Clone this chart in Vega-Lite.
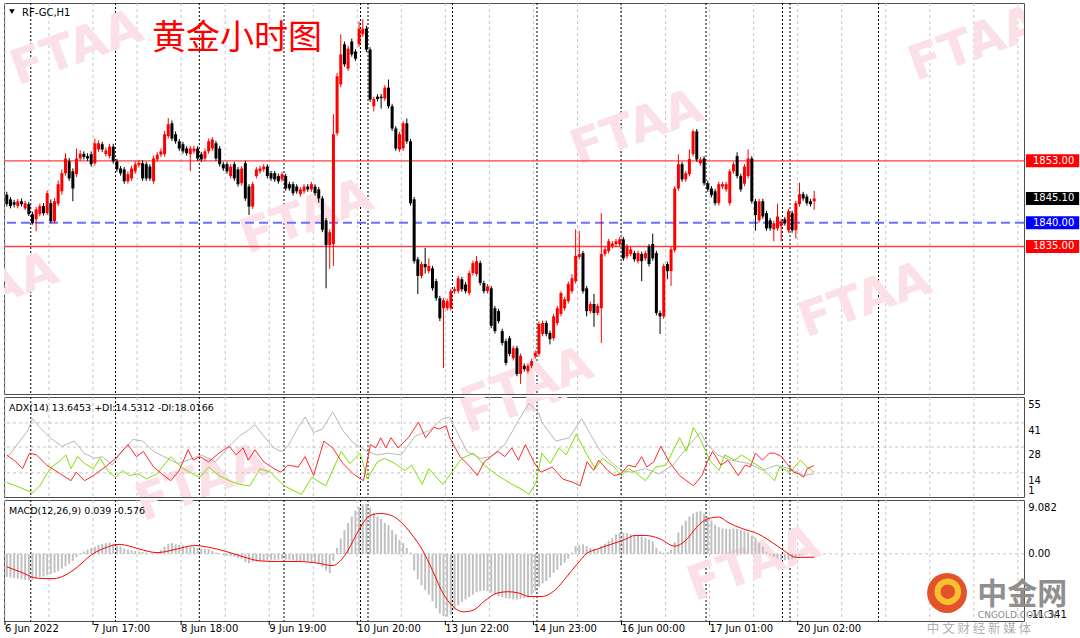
{
"$schema":"https://vega.github.io/schema/vega-lite/v6.json",
"padding":{"left":2,"top":2,"right":0,"bottom":0},
"background":"white",
"spacing":1,
"resolve":{"scale":{"color":"independent"}},
"config":{
 "view":{"stroke":"#4d4d4d","strokeWidth":1},
 "axis":{"labelFont":"DejaVu Sans","labelFontSize":10,"labelColor":"#000000","tickColor":"#000000"}
},
"datasets":{
 "vgrid":[{"i":-0.5},{"i":11.5},{"i":23.5},{"i":35.5},{"i":47.5},{"i":59.5},{"i":71.5},{"i":83.5},{"i":95.5},{"i":107.5},{"i":119.5},{"i":131.5},{"i":143.5},{"i":155.5},{"i":167.5},{"i":179.5},{"i":191.5},{"i":203.5},{"i":215.5},{"i":227.5},{"i":239.5},{"i":251.5},{"i":263.5},{"i":275.5}],
 "seps":[{"i":6.54},{"i":29.62},{"i":52.46},{"i":75.53},{"i":96.38},{"i":98.42},{"i":121.45},{"i":144.47},{"i":167.37},{"i":190.53},{"i":211.37},{"i":213.41},{"i":237.53}],
 "xl":[{"i":-0.5,"t":"6 Jun 2022"},{"i":23.5,"t":"7 Jun 17:00"},{"i":47.5,"t":"8 Jun 18:00"},{"i":71.5,"t":"9 Jun 19:00"},{"i":95.5,"t":"10 Jun 20:00"},{"i":119.5,"t":"13 Jun 22:00"},{"i":143.5,"t":"14 Jun 23:00"},{"i":167.5,"t":"16 Jun 00:00"},{"i":191.5,"t":"17 Jun 01:00"},{"i":215.5,"t":"20 Jun 02:00"}],
 "candles":[
{"i":0,"o":1845.9,"h":1846.5,"l":1843.4,"c":1843.9},{"i":1,"o":1844.9,"h":1845.4,"l":1843.0,"c":1843.5},{"i":2,"o":1844.3,"h":1844.8,"l":1843.2,"c":1843.8},{"i":3,"o":1843.5,"h":1845.0,"l":1843.0,"c":1844.5},{"i":4,"o":1844.5,"h":1845.1,"l":1843.4,"c":1843.9},{"i":5,"o":1843.0,"h":1844.6,"l":1842.6,"c":1844.1},{"i":6,"o":1843.9,"h":1844.4,"l":1841.4,"c":1841.8},{"i":7,"o":1841.8,"h":1842.3,"l":1839.6,"c":1839.9},{"i":8,"o":1840.7,"h":1843.3,"l":1838.2,"c":1842.8},{"i":9,"o":1841.8,"h":1844.0,"l":1841.3,"c":1843.5},
{"i":10,"o":1843.5,"h":1844.1,"l":1841.5,"c":1842.0},{"i":11,"o":1842.0,"h":1846.8,"l":1841.6,"c":1846.2},{"i":12,"o":1844.1,"h":1844.9,"l":1839.9,"c":1840.3},{"i":13,"o":1840.3,"h":1845.2,"l":1839.9,"c":1844.5},{"i":14,"o":1844.0,"h":1848.9,"l":1843.5,"c":1848.1},{"i":15,"o":1846.6,"h":1851.2,"l":1845.9,"c":1850.4},{"i":16,"o":1850.4,"h":1854.6,"l":1849.9,"c":1853.5},{"i":17,"o":1852.9,"h":1853.6,"l":1848.8,"c":1849.3},{"i":18,"o":1850.8,"h":1851.4,"l":1844.5,"c":1847.2},{"i":19,"o":1850.2,"h":1855.6,"l":1849.6,"c":1853.5},
{"i":20,"o":1853.5,"h":1855.2,"l":1853.0,"c":1854.5},{"i":21,"o":1854.5,"h":1855.0,"l":1853.3,"c":1853.8},{"i":22,"o":1854.0,"h":1854.6,"l":1853.0,"c":1853.5},{"i":23,"o":1854.4,"h":1855.0,"l":1851.8,"c":1852.3},{"i":24,"o":1852.5,"h":1857.7,"l":1852.0,"c":1856.7},{"i":25,"o":1855.4,"h":1857.3,"l":1854.9,"c":1856.7},{"i":26,"o":1856.5,"h":1857.0,"l":1854.9,"c":1855.4},{"i":27,"o":1854.4,"h":1855.8,"l":1853.9,"c":1855.2},{"i":28,"o":1854.0,"h":1856.6,"l":1853.5,"c":1856.0},{"i":29,"o":1856.0,"h":1856.6,"l":1852.4,"c":1852.9},
{"i":30,"o":1852.9,"h":1853.4,"l":1850.7,"c":1851.2},{"i":31,"o":1851.4,"h":1851.9,"l":1849.9,"c":1850.4},{"i":32,"o":1851.2,"h":1851.7,"l":1848.2,"c":1848.7},{"i":33,"o":1848.7,"h":1850.8,"l":1848.2,"c":1850.2},{"i":34,"o":1849.3,"h":1852.0,"l":1848.8,"c":1851.4},{"i":35,"o":1850.8,"h":1852.9,"l":1850.3,"c":1852.3},{"i":36,"o":1852.1,"h":1853.2,"l":1851.6,"c":1852.6},{"i":37,"o":1852.5,"h":1853.1,"l":1848.8,"c":1849.3},{"i":38,"o":1852.3,"h":1852.8,"l":1848.8,"c":1849.3},{"i":39,"o":1851.8,"h":1852.3,"l":1848.8,"c":1849.3},
{"i":40,"o":1848.7,"h":1854.1,"l":1848.2,"c":1853.5},{"i":41,"o":1853.3,"h":1854.8,"l":1852.8,"c":1854.3},{"i":42,"o":1854.3,"h":1855.6,"l":1853.8,"c":1855.0},{"i":43,"o":1854.4,"h":1859.3,"l":1853.9,"c":1858.6},{"i":44,"o":1858.2,"h":1862.0,"l":1857.7,"c":1860.7},{"i":45,"o":1860.9,"h":1861.5,"l":1857.2,"c":1857.7},{"i":46,"o":1858.6,"h":1859.2,"l":1856.6,"c":1857.1},{"i":47,"o":1857.1,"h":1857.6,"l":1855.1,"c":1855.6},{"i":48,"o":1856.5,"h":1857.0,"l":1854.5,"c":1855.0},{"i":49,"o":1855.6,"h":1856.1,"l":1854.1,"c":1854.6},
{"i":50,"o":1854.4,"h":1856.1,"l":1850.8,"c":1855.6},{"i":51,"o":1855.0,"h":1856.2,"l":1854.5,"c":1855.6},{"i":52,"o":1855.6,"h":1856.1,"l":1853.0,"c":1853.5},{"i":53,"o":1854.4,"h":1854.9,"l":1852.8,"c":1853.3},{"i":54,"o":1853.5,"h":1855.6,"l":1853.0,"c":1855.0},{"i":55,"o":1855.0,"h":1857.7,"l":1854.5,"c":1857.1},{"i":56,"o":1855.6,"h":1858.0,"l":1855.1,"c":1857.5},{"i":57,"o":1856.7,"h":1857.2,"l":1853.0,"c":1853.5},{"i":58,"o":1855.6,"h":1856.1,"l":1851.8,"c":1852.3},{"i":59,"o":1852.3,"h":1852.8,"l":1850.9,"c":1851.4},
{"i":60,"o":1852.3,"h":1852.8,"l":1850.3,"c":1850.8},{"i":61,"o":1849.8,"h":1852.3,"l":1849.3,"c":1851.8},{"i":62,"o":1852.3,"h":1852.8,"l":1848.8,"c":1849.3},{"i":63,"o":1851.2,"h":1851.7,"l":1847.6,"c":1848.1},{"i":64,"o":1848.3,"h":1851.9,"l":1847.8,"c":1851.4},{"i":65,"o":1852.5,"h":1853.0,"l":1844.6,"c":1845.1},{"i":66,"o":1847.6,"h":1848.1,"l":1841.6,"c":1843.4},{"i":67,"o":1843.4,"h":1848.6,"l":1842.9,"c":1848.1},{"i":68,"o":1849.8,"h":1851.7,"l":1849.3,"c":1851.2},{"i":69,"o":1850.8,"h":1852.0,"l":1850.3,"c":1851.4},
{"i":70,"o":1851.2,"h":1852.3,"l":1850.7,"c":1851.8},{"i":71,"o":1851.8,"h":1852.3,"l":1849.3,"c":1849.8},{"i":72,"o":1850.4,"h":1850.9,"l":1848.8,"c":1849.3},{"i":73,"o":1850.4,"h":1850.9,"l":1848.6,"c":1849.1},{"i":74,"o":1849.8,"h":1850.3,"l":1848.2,"c":1848.7},{"i":75,"o":1849.1,"h":1850.7,"l":1848.6,"c":1850.2},{"i":76,"o":1849.8,"h":1850.3,"l":1846.7,"c":1847.2},{"i":77,"o":1848.1,"h":1848.6,"l":1846.7,"c":1847.2},{"i":78,"o":1848.1,"h":1848.6,"l":1845.7,"c":1846.2},{"i":79,"o":1847.6,"h":1848.1,"l":1846.1,"c":1846.6},
{"i":80,"o":1846.0,"h":1847.5,"l":1845.5,"c":1847.0},{"i":81,"o":1846.6,"h":1848.1,"l":1846.1,"c":1847.6},{"i":82,"o":1847.6,"h":1848.1,"l":1846.5,"c":1847.0},{"i":83,"o":1847.0,"h":1848.6,"l":1846.5,"c":1848.1},{"i":84,"o":1847.6,"h":1848.1,"l":1845.7,"c":1846.2},{"i":85,"o":1847.0,"h":1847.5,"l":1844.2,"c":1845.1},{"i":86,"o":1845.1,"h":1845.6,"l":1838.0,"c":1838.5},{"i":87,"o":1840.5,"h":1841.0,"l":1826.2,"c":1835.3},{"i":88,"o":1835.3,"h":1838.6,"l":1830.3,"c":1838.0},{"i":89,"o":1835.5,"h":1862.8,"l":1830.9,"c":1858.6},
{"i":90,"o":1858.8,"h":1871.5,"l":1858.3,"c":1870.8},{"i":91,"o":1869.1,"h":1879.6,"l":1868.5,"c":1875.4},{"i":92,"o":1877.5,"h":1878.1,"l":1872.8,"c":1873.3},{"i":93,"o":1872.4,"h":1877.2,"l":1871.9,"c":1876.6},{"i":94,"o":1878.1,"h":1878.7,"l":1874.9,"c":1875.4},{"i":95,"o":1876.0,"h":1876.5,"l":1874.0,"c":1874.5},{"i":96,"o":1877.5,"h":1882.3,"l":1877.0,"c":1880.8},{"i":97,"o":1879.6,"h":1882.8,"l":1879.1,"c":1880.8},{"i":98,"o":1880.8,"h":1881.4,"l":1875.9,"c":1876.4},{"i":99,"o":1876.4,"h":1876.9,"l":1865.4,"c":1865.9},
{"i":100,"o":1864.5,"h":1866.5,"l":1863.4,"c":1866.0},{"i":101,"o":1866.5,"h":1867.0,"l":1865.5,"c":1866.0},{"i":102,"o":1866.5,"h":1867.1,"l":1864.0,"c":1866.2},{"i":103,"o":1866.1,"h":1868.9,"l":1865.6,"c":1868.4},{"i":104,"o":1868.4,"h":1870.1,"l":1864.0,"c":1864.5},{"i":105,"o":1864.5,"h":1865.0,"l":1859.3,"c":1859.8},{"i":106,"o":1859.8,"h":1860.3,"l":1855.1,"c":1855.6},{"i":107,"o":1855.4,"h":1859.1,"l":1854.9,"c":1858.6},{"i":108,"o":1855.6,"h":1861.4,"l":1855.1,"c":1860.9},{"i":109,"o":1860.9,"h":1861.9,"l":1856.6,"c":1857.1},
{"i":110,"o":1857.1,"h":1857.6,"l":1843.6,"c":1844.1},{"i":111,"o":1844.9,"h":1845.4,"l":1831.4,"c":1831.9},{"i":112,"o":1832.3,"h":1832.8,"l":1825.0,"c":1828.8},{"i":113,"o":1828.8,"h":1831.8,"l":1828.3,"c":1831.3},{"i":114,"o":1831.3,"h":1834.7,"l":1829.3,"c":1830.6},{"i":115,"o":1829.8,"h":1832.5,"l":1829.3,"c":1830.9},{"i":116,"o":1830.4,"h":1830.9,"l":1825.7,"c":1826.2},{"i":117,"o":1827.7,"h":1828.2,"l":1823.6,"c":1824.1},{"i":118,"o":1824.1,"h":1824.6,"l":1819.3,"c":1819.9},{"i":119,"o":1822.0,"h":1824.2,"l":1809.4,"c":1823.7},
{"i":120,"o":1822.0,"h":1824.0,"l":1821.5,"c":1823.5},{"i":121,"o":1822.0,"h":1826.1,"l":1821.5,"c":1825.6},{"i":122,"o":1825.6,"h":1826.5,"l":1825.1,"c":1826.0},{"i":123,"o":1825.6,"h":1828.8,"l":1825.1,"c":1828.3},{"i":124,"o":1828.1,"h":1828.6,"l":1825.5,"c":1826.0},{"i":125,"o":1827.0,"h":1827.5,"l":1825.1,"c":1825.6},{"i":126,"o":1825.2,"h":1829.9,"l":1824.7,"c":1829.4},{"i":127,"o":1829.4,"h":1832.0,"l":1828.9,"c":1831.5},{"i":128,"o":1829.2,"h":1833.0,"l":1828.7,"c":1831.9},{"i":129,"o":1831.5,"h":1832.0,"l":1826.8,"c":1827.3},
{"i":130,"o":1827.3,"h":1827.8,"l":1825.1,"c":1825.6},{"i":131,"o":1825.6,"h":1827.1,"l":1825.1,"c":1826.6},{"i":132,"o":1826.2,"h":1826.7,"l":1817.8,"c":1818.3},{"i":133,"o":1822.0,"h":1822.5,"l":1816.7,"c":1817.2},{"i":134,"o":1821.4,"h":1821.9,"l":1818.8,"c":1819.3},{"i":135,"o":1817.2,"h":1817.7,"l":1814.2,"c":1814.7},{"i":136,"o":1815.1,"h":1815.6,"l":1810.0,"c":1810.5},{"i":137,"o":1815.7,"h":1816.2,"l":1811.9,"c":1812.4},{"i":138,"o":1811.5,"h":1814.1,"l":1811.0,"c":1813.6},{"i":139,"o":1813.6,"h":1814.1,"l":1807.7,"c":1808.2},
{"i":140,"o":1808.2,"h":1812.5,"l":1806.1,"c":1812.0},{"i":141,"o":1809.9,"h":1810.4,"l":1808.7,"c":1809.2},{"i":142,"o":1808.8,"h":1810.4,"l":1808.3,"c":1809.9},{"i":143,"o":1809.9,"h":1811.4,"l":1809.4,"c":1810.9},{"i":144,"o":1811.9,"h":1813.1,"l":1811.4,"c":1812.6},{"i":145,"o":1812.4,"h":1819.2,"l":1811.9,"c":1818.7},{"i":146,"o":1816.6,"h":1819.4,"l":1816.1,"c":1818.9},{"i":147,"o":1818.9,"h":1819.4,"l":1816.1,"c":1816.6},{"i":148,"o":1816.8,"h":1817.3,"l":1814.4,"c":1815.5},{"i":149,"o":1815.7,"h":1820.8,"l":1815.2,"c":1820.3},
{"i":150,"o":1818.9,"h":1822.5,"l":1818.4,"c":1822.0},{"i":151,"o":1820.8,"h":1825.6,"l":1820.3,"c":1825.2},{"i":152,"o":1822.0,"h":1824.4,"l":1821.5,"c":1823.9},{"i":153,"o":1823.5,"h":1827.6,"l":1823.0,"c":1827.1},{"i":154,"o":1825.6,"h":1829.2,"l":1825.1,"c":1828.3},{"i":155,"o":1827.7,"h":1838.6,"l":1827.2,"c":1833.0},{"i":156,"o":1832.8,"h":1838.2,"l":1832.3,"c":1833.4},{"i":157,"o":1833.6,"h":1834.1,"l":1825.1,"c":1825.6},{"i":158,"o":1826.2,"h":1826.7,"l":1820.3,"c":1821.4},{"i":159,"o":1821.4,"h":1823.4,"l":1820.9,"c":1822.9},
{"i":160,"o":1822.9,"h":1825.0,"l":1818.1,"c":1821.0},{"i":161,"o":1821.0,"h":1823.0,"l":1820.5,"c":1822.5},{"i":162,"o":1822.0,"h":1842.0,"l":1814.7,"c":1833.4},{"i":163,"o":1833.4,"h":1834.9,"l":1832.9,"c":1834.4},{"i":164,"o":1834.0,"h":1836.6,"l":1833.5,"c":1836.1},{"i":165,"o":1835.1,"h":1836.1,"l":1834.6,"c":1835.6},{"i":166,"o":1835.5,"h":1836.6,"l":1835.0,"c":1836.1},{"i":167,"o":1835.5,"h":1837.0,"l":1835.0,"c":1836.5},{"i":168,"o":1836.5,"h":1837.0,"l":1832.0,"c":1832.5},{"i":169,"o":1832.9,"h":1835.5,"l":1832.4,"c":1835.0},
{"i":170,"o":1833.4,"h":1834.9,"l":1832.9,"c":1834.4},{"i":171,"o":1833.6,"h":1834.1,"l":1831.8,"c":1832.3},{"i":172,"o":1831.9,"h":1834.1,"l":1831.4,"c":1833.6},{"i":173,"o":1833.4,"h":1833.9,"l":1827.7,"c":1831.9},{"i":174,"o":1832.5,"h":1834.1,"l":1832.0,"c":1833.6},{"i":175,"o":1835.0,"h":1835.5,"l":1830.8,"c":1831.3},{"i":176,"o":1835.5,"h":1837.7,"l":1832.0,"c":1832.5},{"i":177,"o":1833.6,"h":1834.1,"l":1820.5,"c":1821.0},{"i":178,"o":1821.0,"h":1821.5,"l":1816.6,"c":1820.3},{"i":179,"o":1820.3,"h":1831.4,"l":1819.8,"c":1830.9},
{"i":180,"o":1831.3,"h":1831.8,"l":1828.1,"c":1829.8},{"i":181,"o":1829.8,"h":1834.9,"l":1826.7,"c":1834.4},{"i":182,"o":1834.2,"h":1847.7,"l":1833.7,"c":1847.2},{"i":183,"o":1847.2,"h":1854.4,"l":1846.7,"c":1852.3},{"i":184,"o":1852.3,"h":1852.8,"l":1848.6,"c":1849.1},{"i":185,"o":1849.1,"h":1850.9,"l":1848.6,"c":1850.4},{"i":186,"o":1850.2,"h":1855.4,"l":1849.7,"c":1853.4},{"i":187,"o":1854.4,"h":1859.6,"l":1853.9,"c":1859.2},{"i":188,"o":1859.2,"h":1859.7,"l":1852.8,"c":1853.3},{"i":189,"o":1852.5,"h":1853.8,"l":1852.0,"c":1853.3},
{"i":190,"o":1853.5,"h":1854.0,"l":1847.8,"c":1848.3},{"i":191,"o":1848.3,"h":1848.8,"l":1846.5,"c":1847.0},{"i":192,"o":1847.2,"h":1847.7,"l":1845.3,"c":1845.8},{"i":193,"o":1846.6,"h":1847.1,"l":1843.6,"c":1844.1},{"i":194,"o":1844.1,"h":1848.6,"l":1843.6,"c":1848.1},{"i":195,"o":1847.6,"h":1848.6,"l":1847.1,"c":1848.1},{"i":196,"o":1847.0,"h":1848.6,"l":1846.5,"c":1848.1},{"i":197,"o":1844.1,"h":1851.3,"l":1843.6,"c":1850.8},{"i":198,"o":1850.8,"h":1852.8,"l":1850.3,"c":1852.3},{"i":199,"o":1854.0,"h":1854.8,"l":1849.3,"c":1849.8},
{"i":200,"o":1849.8,"h":1850.3,"l":1846.5,"c":1847.0},{"i":201,"o":1848.2,"h":1852.3,"l":1847.7,"c":1851.8},{"i":202,"o":1849.8,"h":1855.4,"l":1849.3,"c":1853.5},{"i":203,"o":1853.5,"h":1854.0,"l":1844.0,"c":1844.5},{"i":204,"o":1844.5,"h":1845.0,"l":1838.3,"c":1841.6},{"i":205,"o":1840.5,"h":1845.0,"l":1840.0,"c":1844.5},{"i":206,"o":1844.5,"h":1845.0,"l":1840.8,"c":1841.3},{"i":207,"o":1842.0,"h":1842.5,"l":1838.3,"c":1838.8},{"i":208,"o":1840.5,"h":1841.0,"l":1838.3,"c":1838.8},{"i":209,"o":1838.6,"h":1840.4,"l":1836.1,"c":1839.9},
{"i":210,"o":1838.8,"h":1844.0,"l":1838.3,"c":1841.3},{"i":211,"o":1839.3,"h":1840.8,"l":1836.1,"c":1840.3},{"i":212,"o":1840.7,"h":1841.2,"l":1839.4,"c":1839.9},{"i":213,"o":1838.4,"h":1842.9,"l":1837.9,"c":1842.4},{"i":214,"o":1842.0,"h":1842.5,"l":1837.9,"c":1838.4},{"i":215,"o":1838.4,"h":1844.6,"l":1836.7,"c":1844.1},{"i":216,"o":1843.9,"h":1848.4,"l":1843.4,"c":1846.0},{"i":217,"o":1846.0,"h":1846.5,"l":1844.6,"c":1845.1},{"i":218,"o":1845.5,"h":1846.0,"l":1843.6,"c":1844.1},{"i":219,"o":1844.5,"h":1845.0,"l":1843.4,"c":1843.9},
{"i":220,"o":1844.5,"h":1846.7,"l":1842.7,"c":1845.1}
 ],
 "adx":[
{"i":0,"v":21.9,"s":"a"},{"i":2.5,"v":28.4,"s":"a"},{"i":5.7,"v":36.8,"s":"a"},{"i":7,"v":43.3,"s":"a"},{"i":9,"v":38.6,"s":"a"},{"i":11.8,"v":33,"s":"a"},{"i":15,"v":28.4,"s":"a"},{"i":18.4,"v":31.2,"s":"a"},{"i":21,"v":24.7,"s":"a"},{"i":24,"v":21.9,"s":"a"},{"i":26,"v":22.8,"s":"a"},{"i":28.7,"v":18.2,"s":"a"},{"i":31,"v":24.7,"s":"a"},{"i":34.4,"v":32.1,"s":"a"},{"i":37,"v":31.2,"s":"a"},{"i":40,"v":25.6,"s":"a"},{"i":43.7,"v":21.9,"s":"a"},{"i":46.5,"v":19.1,"s":"a"},{"i":49.4,"v":20.9,"s":"a"},{"i":53,"v":23.7,"s":"a"},{"i":56.9,"v":20,"s":"a"},{"i":60.6,"v":28.4,"s":"a"},{"i":63.4,"v":33.9,"s":"a"},{"i":66.2,"v":37.7,"s":"a"},{"i":67.6,"v":40.1,"s":"a"},{"i":70,"v":33.9,"s":"a"},{"i":72.8,"v":27.5,"s":"a"},{"i":74.7,"v":25.6,"s":"a"},{"i":76.6,"v":28.4,"s":"a"},{"i":79.4,"v":38.6,"s":"a"},{"i":81.3,"v":44.2,"s":"a"},{"i":83.6,"v":35.8,"s":"a"},{"i":86,"v":37.7,"s":"a"},{"i":88.8,"v":47,"s":"a"},{"i":91.6,"v":36.8,"s":"a"},{"i":94.4,"v":30.2,"s":"a"},{"i":98.2,"v":25.6,"s":"a"},{"i":101,"v":23.7,"s":"a"},{"i":103.8,"v":24.7,"s":"a"},{"i":107.5,"v":23.7,"s":"a"},{"i":111.3,"v":33.9,"s":"a"},{"i":115,"v":36.8,"s":"a"},{"i":118.8,"v":43.3,"s":"a"},{"i":120.7,"v":44.2,"s":"a"},{"i":122.5,"v":36.8,"s":"a"},{"i":125.4,"v":25.6,"s":"a"},{"i":129.1,"v":21.9,"s":"a"},{"i":131.9,"v":22.8,"s":"a"},{"i":135.7,"v":29.3,"s":"a"},{"i":139.4,"v":42.3,"s":"a"},{"i":142.3,"v":51.6,"s":"a"},{"i":145,"v":46,"s":"a"},{"i":145.8,"v":41.4,"s":"a"},{"i":149.6,"v":31.2,"s":"a"},{"i":151.5,"v":32.1,"s":"a"},{"i":153.3,"v":33,"s":"a"},{"i":156.6,"v":43.3,"s":"a"},{"i":159,"v":34.9,"s":"a"},{"i":161.8,"v":25.6,"s":"a"},{"i":164.6,"v":20,"s":"a"},{"i":167.4,"v":15.4,"s":"a"},{"i":170.2,"v":14.4,"s":"a"},{"i":174,"v":16.3,"s":"a"},{"i":177.7,"v":13.5,"s":"a"},{"i":181.5,"v":18.2,"s":"a"},{"i":185.2,"v":27.5,"s":"a"},{"i":189,"v":35.8,"s":"a"},{"i":190.9,"v":29.3,"s":"a"},{"i":193.7,"v":23.7,"s":"a"},{"i":197.4,"v":20.9,"s":"a"},{"i":202.1,"v":19.1,"s":"a"},{"i":205.9,"v":15.4,"s":"a"},{"i":209.7,"v":18.2,"s":"a"},{"i":213.4,"v":16.3,"s":"a"},{"i":217.1,"v":12.6,"s":"a"},{"i":220,"v":13.6,"s":"a"},
{"i":0,"v":8.9,"s":"b"},{"i":2.5,"v":7,"s":"b"},{"i":7.1,"v":3.3,"s":"b"},{"i":9,"v":7,"s":"b"},{"i":10.9,"v":13.5,"s":"b"},{"i":12.8,"v":18.2,"s":"b"},{"i":14.2,"v":20,"s":"b"},{"i":16.1,"v":23.7,"s":"b"},{"i":17.5,"v":16.3,"s":"b"},{"i":19.3,"v":22.8,"s":"b"},{"i":21.2,"v":19.1,"s":"b"},{"i":23.6,"v":16.3,"s":"b"},{"i":25.4,"v":21.9,"s":"b"},{"i":27.8,"v":14.4,"s":"b"},{"i":29.7,"v":11.6,"s":"b"},{"i":31.5,"v":15.4,"s":"b"},{"i":33.4,"v":12.6,"s":"b"},{"i":35.8,"v":13.5,"s":"b"},{"i":38.1,"v":10.7,"s":"b"},{"i":40.9,"v":13.5,"s":"b"},{"i":44.7,"v":22.8,"s":"b"},{"i":47.5,"v":17.2,"s":"b"},{"i":49.8,"v":14.4,"s":"b"},{"i":52.6,"v":11.6,"s":"b"},{"i":55,"v":17.2,"s":"b"},{"i":57.8,"v":12.6,"s":"b"},{"i":60.6,"v":9.8,"s":"b"},{"i":63.4,"v":7.9,"s":"b"},{"i":66.2,"v":7,"s":"b"},{"i":69,"v":16.3,"s":"b"},{"i":71.8,"v":14.4,"s":"b"},{"i":75.6,"v":7,"s":"b"},{"i":80.3,"v":2.4,"s":"b"},{"i":83.1,"v":11.6,"s":"b"},{"i":86.9,"v":7,"s":"b"},{"i":91.1,"v":25.6,"s":"b"},{"i":93.5,"v":19.1,"s":"b"},{"i":96.3,"v":24.7,"s":"b"},{"i":98.2,"v":10.7,"s":"b"},{"i":101,"v":20,"s":"b"},{"i":102.9,"v":21.9,"s":"b"},{"i":105.7,"v":19.1,"s":"b"},{"i":108.5,"v":15.3,"s":"b"},{"i":110.3,"v":18.2,"s":"b"},{"i":113.2,"v":7.9,"s":"b"},{"i":115,"v":16.3,"s":"b"},{"i":118.8,"v":7.9,"s":"b"},{"i":121.6,"v":15.3,"s":"b"},{"i":124,"v":21.9,"s":"b"},{"i":127.2,"v":24.7,"s":"b"},{"i":130.1,"v":18.2,"s":"b"},{"i":133.8,"v":12.6,"s":"b"},{"i":137.6,"v":7.9,"s":"b"},{"i":140.4,"v":5.1,"s":"b"},{"i":142.3,"v":2.4,"s":"b"},{"i":144.2,"v":8.9,"s":"b"},{"i":145.8,"v":24.7,"s":"b"},{"i":148.1,"v":19.1,"s":"b"},{"i":150.5,"v":27.5,"s":"b"},{"i":152.4,"v":23.7,"s":"b"},{"i":155.2,"v":34.9,"s":"b"},{"i":158.1,"v":23.7,"s":"b"},{"i":160.4,"v":16.3,"s":"b"},{"i":162.3,"v":21.9,"s":"b"},{"i":165.5,"v":17.2,"s":"b"},{"i":167.4,"v":12.6,"s":"b"},{"i":169.3,"v":16.3,"s":"b"},{"i":171.2,"v":14.4,"s":"b"},{"i":174,"v":9.8,"s":"b"},{"i":176.8,"v":17.2,"s":"b"},{"i":179.6,"v":18.2,"s":"b"},{"i":183.3,"v":33,"s":"b"},{"i":185.2,"v":25.6,"s":"b"},{"i":187.1,"v":38.6,"s":"b"},{"i":189,"v":32.1,"s":"b"},{"i":191.8,"v":20,"s":"b"},{"i":194.1,"v":15.4,"s":"b"},{"i":195.6,"v":23.7,"s":"b"},{"i":198.4,"v":20.9,"s":"b"},{"i":200.2,"v":23.7,"s":"b"},{"i":203.1,"v":20,"s":"b"},{"i":205.9,"v":16.3,"s":"b"},{"i":209.2,"v":9.8,"s":"b"},{"i":210.6,"v":17.2,"s":"b"},{"i":213.4,"v":14.4,"s":"b"},{"i":216.2,"v":20.9,"s":"b"},{"i":218.1,"v":17.2,"s":"b"},{"i":220,"v":14.5,"s":"b"},
{"i":0,"v":23.7,"s":"c"},{"i":2.5,"v":20,"s":"c"},{"i":4.3,"v":16.3,"s":"c"},{"i":6.2,"v":24.7,"s":"c"},{"i":8.1,"v":23.7,"s":"c"},{"i":10.9,"v":18.2,"s":"c"},{"i":14.6,"v":13.5,"s":"c"},{"i":17.5,"v":9.8,"s":"c"},{"i":18.9,"v":14.4,"s":"c"},{"i":21.2,"v":9.8,"s":"c"},{"i":23.6,"v":12.6,"s":"c"},{"i":26.8,"v":17.2,"s":"c"},{"i":29.7,"v":21.9,"s":"c"},{"i":33,"v":29.3,"s":"c"},{"i":35.3,"v":22.8,"s":"c"},{"i":37.2,"v":25.6,"s":"c"},{"i":40,"v":17.2,"s":"c"},{"i":42.8,"v":12.6,"s":"c"},{"i":44.7,"v":9.8,"s":"c"},{"i":47,"v":15.4,"s":"c"},{"i":49.4,"v":26.5,"s":"c"},{"i":50.8,"v":20.9,"s":"c"},{"i":52.6,"v":22.8,"s":"c"},{"i":55,"v":20,"s":"c"},{"i":57.8,"v":24.7,"s":"c"},{"i":60.6,"v":28.4,"s":"c"},{"i":62.5,"v":23.7,"s":"c"},{"i":64.4,"v":27.5,"s":"c"},{"i":65.8,"v":20.9,"s":"c"},{"i":67.6,"v":26.5,"s":"c"},{"i":70,"v":20,"s":"c"},{"i":72.8,"v":16.3,"s":"c"},{"i":74.7,"v":14.4,"s":"c"},{"i":76.6,"v":18.2,"s":"c"},{"i":79.4,"v":17.2,"s":"c"},{"i":81.3,"v":22.8,"s":"c"},{"i":83.6,"v":12.6,"s":"c"},{"i":86.4,"v":31.2,"s":"c"},{"i":88.8,"v":27.5,"s":"c"},{"i":91.6,"v":19.1,"s":"c"},{"i":94.4,"v":13.5,"s":"c"},{"i":97.2,"v":9.8,"s":"c"},{"i":99.1,"v":29.3,"s":"c"},{"i":100.5,"v":27.5,"s":"c"},{"i":101.9,"v":33,"s":"c"},{"i":103.3,"v":27.5,"s":"c"},{"i":104.7,"v":33,"s":"c"},{"i":106.6,"v":27.5,"s":"c"},{"i":109.4,"v":33,"s":"c"},{"i":112.2,"v":41.4,"s":"c"},{"i":114.1,"v":33,"s":"c"},{"i":116.4,"v":38.6,"s":"c"},{"i":117.8,"v":37.7,"s":"c"},{"i":119.7,"v":39.5,"s":"c"},{"i":120.7,"v":33,"s":"c"},{"i":123.5,"v":22.8,"s":"c"},{"i":126.3,"v":17.2,"s":"c"},{"i":128.2,"v":12.6,"s":"c"},{"i":130.1,"v":20,"s":"c"},{"i":131.9,"v":22.8,"s":"c"},{"i":133.8,"v":25.6,"s":"c"},{"i":135.7,"v":22.8,"s":"c"},{"i":137.6,"v":27.5,"s":"c"},{"i":139.4,"v":20.9,"s":"c"},{"i":141.3,"v":29.3,"s":"c"},{"i":143.6,"v":20,"s":"c"},{"i":145.5,"v":14.4,"s":"c"},{"i":148.6,"v":17.2,"s":"c"},{"i":151.5,"v":10.7,"s":"c"},{"i":154.3,"v":8.9,"s":"c"},{"i":156.2,"v":7,"s":"c"},{"i":158.1,"v":20,"s":"c"},{"i":159.9,"v":15.4,"s":"c"},{"i":161.3,"v":20.9,"s":"c"},{"i":163.7,"v":15.4,"s":"c"},{"i":165.5,"v":12.6,"s":"c"},{"i":167.4,"v":13.5,"s":"c"},{"i":169.3,"v":18.2,"s":"c"},{"i":171.2,"v":17.2,"s":"c"},{"i":173,"v":22.8,"s":"c"},{"i":174.4,"v":17.2,"s":"c"},{"i":176.3,"v":20,"s":"c"},{"i":178.2,"v":28.4,"s":"c"},{"i":180.5,"v":20,"s":"c"},{"i":183.3,"v":12.6,"s":"c"},{"i":187.1,"v":7,"s":"c"},{"i":189.4,"v":12.6,"s":"c"},{"i":190.9,"v":20,"s":"c"},{"i":192.3,"v":25.6,"s":"c"},{"i":194.6,"v":18.2,"s":"c"},{"i":196.5,"v":20.9,"s":"c"},{"i":199.3,"v":12.6,"s":"c"},{"i":201.2,"v":18.2,"s":"c"},{"i":202.6,"v":17.2,"s":"c"},{"i":204,"v":24.7,"s":"c"},{"i":205.9,"v":20.9,"s":"c"},{"i":207.8,"v":24.7,"s":"c"},{"i":209.2,"v":24.7,"s":"c"},{"i":211.1,"v":22.8,"s":"c"},{"i":212.5,"v":19.1,"s":"c"},{"i":214.4,"v":14.4,"s":"c"},{"i":215.8,"v":13.5,"s":"c"},{"i":217.1,"v":11.7,"s":"c"},{"i":218.1,"v":16.3,"s":"c"},{"i":220,"v":18.0,"s":"c"}
 ],
 "macd":[
{"i":0,"m":-3.9},{"i":1,"m":-4.0},{"i":2,"m":-4.1},{"i":3,"m":-4.2},{"i":4,"m":-4.3},{"i":5,"m":-4.4},{"i":6,"m":-4.5},{"i":7,"m":-4.4},{"i":8,"m":-4.1},{"i":9,"m":-3.9},{"i":10,"m":-3.8},{"i":11,"m":-3.6},{"i":12,"m":-3.4},{"i":13,"m":-3.2},{"i":14,"m":-2.9},{"i":15,"m":-2.5},{"i":16,"m":-2.1},{"i":17,"m":-1.7},{"i":18,"m":-1.2},{"i":19,"m":-0.6},{"i":20,"m":-0.1},{"i":21,"m":0.4},{"i":22,"m":0.7},{"i":23,"m":1.0},{"i":24,"m":1.2},{"i":25,"m":1.5},{"i":26,"m":1.7},{"i":27,"m":1.8},{"i":28,"m":1.9},{"i":29,"m":1.7},{"i":30,"m":1.4},{"i":31,"m":1.2},{"i":32,"m":0.9},{"i":33,"m":0.7},{"i":34,"m":0.6},{"i":35,"m":0.5},{"i":36,"m":0.4},{"i":37,"m":0.3},{"i":38,"m":0.2},{"i":39,"m":0.1},{"i":40,"m":0.1},{"i":41,"m":0.3},{"i":42,"m":0.6},{"i":43,"m":1.2},{"i":44,"m":1.7},{"i":45,"m":1.8},{"i":46,"m":1.6},{"i":47,"m":1.5},{"i":48,"m":1.4},{"i":49,"m":1.3},{"i":50,"m":1.2},{"i":51,"m":1.2},{"i":52,"m":1.0},{"i":53,"m":0.9},{"i":54,"m":0.8},{"i":55,"m":0.8},{"i":56,"m":0.5},{"i":57,"m":0.2},{"i":58,"m":0.05},{"i":59,"m":-0.2},{"i":60,"m":-0.3},{"i":61,"m":-0.4},{"i":62,"m":-0.5},{"i":63,"m":-0.7},{"i":64,"m":-0.8},{"i":65,"m":-1.4},{"i":66,"m":-1.6},{"i":67,"m":-1.4},{"i":68,"m":-1.3},{"i":69,"m":-1.3},{"i":70,"m":-1.2},{"i":71,"m":-1.1},{"i":72,"m":-1.0},{"i":73,"m":-1.0},{"i":74,"m":-1.0},{"i":75,"m":-0.9},{"i":76,"m":-1.0},{"i":77,"m":-1.0},{"i":78,"m":-1.1},{"i":79,"m":-1.2},{"i":80,"m":-1.2},{"i":81,"m":-1.3},{"i":82,"m":-1.3},{"i":83,"m":-1.4},{"i":84,"m":-1.5},{"i":85,"m":-1.7},{"i":86,"m":-2.2},{"i":87,"m":-2.8},{"i":88,"m":-3.3},{"i":89,"m":-1.2},{"i":90,"m":1.0},{"i":91,"m":2.6},{"i":92,"m":4.0},{"i":93,"m":5.2},{"i":94,"m":6.3},{"i":95,"m":7.3},{"i":96,"m":7.9},{"i":97,"m":8.3},{"i":98,"m":8.4},{"i":99,"m":7.8},{"i":100,"m":6.9},{"i":101,"m":6.3},{"i":102,"m":5.9},{"i":103,"m":5.2},{"i":104,"m":4.8},{"i":105,"m":4.0},{"i":106,"m":3.3},{"i":107,"m":2.3},{"i":108,"m":1.8},{"i":109,"m":1.0},{"i":110,"m":0.2},{"i":111,"m":-2.8},{"i":112,"m":-4.3},{"i":113,"m":-5.3},{"i":114,"m":-6.1},{"i":115,"m":-6.9},{"i":116,"m":-8.0},{"i":117,"m":-9.2},{"i":118,"m":-10.1},{"i":119,"m":-10.5},{"i":120,"m":-10.6},{"i":121,"m":-10.3},{"i":122,"m":-9.5},{"i":123,"m":-8.7},{"i":124,"m":-8.1},{"i":125,"m":-7.7},{"i":126,"m":-7.3},{"i":127,"m":-6.9},{"i":128,"m":-6.5},{"i":129,"m":-6.3},{"i":130,"m":-6.2},{"i":131,"m":-6.3},{"i":132,"m":-6.6},{"i":133,"m":-6.9},{"i":134,"m":-7.2},{"i":135,"m":-7.3},{"i":136,"m":-7.5},{"i":137,"m":-7.6},{"i":138,"m":-7.7},{"i":139,"m":-7.7},{"i":140,"m":-7.6},{"i":141,"m":-7.5},{"i":142,"m":-7.4},{"i":143,"m":-6.9},{"i":144,"m":-6.3},{"i":145,"m":-5.6},{"i":146,"m":-5.0},{"i":147,"m":-4.6},{"i":148,"m":-4.0},{"i":149,"m":-3.2},{"i":150,"m":-2.7},{"i":151,"m":-2.0},{"i":152,"m":-1.5},{"i":153,"m":-0.8},{"i":154,"m":0.2},{"i":155,"m":1.3},{"i":156,"m":1.5},{"i":157,"m":1.6},{"i":158,"m":1.3},{"i":159,"m":1.0},{"i":160,"m":0.8},{"i":161,"m":0.7},{"i":162,"m":1.3},{"i":163,"m":1.7},{"i":164,"m":2.2},{"i":165,"m":2.7},{"i":166,"m":3.3},{"i":167,"m":3.5},{"i":168,"m":3.6},{"i":169,"m":3.5},{"i":170,"m":3.3},{"i":171,"m":3.2},{"i":172,"m":3.0},{"i":173,"m":2.9},{"i":174,"m":2.7},{"i":175,"m":2.4},{"i":176,"m":2.1},{"i":177,"m":1.0},{"i":178,"m":0.4},{"i":179,"m":0.2},{"i":180,"m":0.3},{"i":181,"m":0.7},{"i":182,"m":2.0},{"i":183,"m":3.6},{"i":184,"m":4.8},{"i":185,"m":5.6},{"i":186,"m":6.3},{"i":187,"m":6.8},{"i":188,"m":7.1},{"i":189,"m":7.2},{"i":190,"m":6.8},{"i":191,"m":6.2},{"i":192,"m":5.6},{"i":193,"m":4.9},{"i":194,"m":4.5},{"i":195,"m":4.3},{"i":196,"m":4.2},{"i":197,"m":4.2},{"i":198,"m":4.3},{"i":199,"m":4.2},{"i":200,"m":4.0},{"i":201,"m":3.8},{"i":202,"m":3.6},{"i":203,"m":3.1},{"i":204,"m":2.7},{"i":205,"m":1.8},{"i":206,"m":1.2},{"i":207,"m":0.3},{"i":208,"m":-0.2},{"i":209,"m":-0.5},{"i":210,"m":-0.8},{"i":211,"m":-1.0},{"i":212,"m":-1.1},{"i":213,"m":-1.0},{"i":214,"m":-0.9},{"i":215,"m":-0.6},{"i":216,"m":-0.3},{"i":217,"m":-0.2},{"i":218,"m":-0.05},{"i":219,"m":0.02},{"i":220,"m":0.04}
 ],
 "sig":[
{"i":0,"v":-2.2},{"i":3.9,"v":-3.1},{"i":8.1,"v":-4.1},{"i":12.8,"v":-4.2},{"i":15.6,"v":-3.7},{"i":19.3,"v":-2.2},{"i":23,"v":-0.2},{"i":26.8,"v":1.0},{"i":30.6,"v":1.6},{"i":33.4,"v":1.3},{"i":37.3,"v":0.6},{"i":41,"v":0.2},{"i":45.6,"v":0.7},{"i":51.2,"v":1.4},{"i":55,"v":1.1},{"i":59.7,"v":0.4},{"i":64.4,"v":-0.5},{"i":69,"v":-1.2},{"i":73.7,"v":-1.3},{"i":79.4,"v":-1.3},{"i":85,"v":-1.6},{"i":88.8,"v":-2.0},{"i":90.7,"v":-1.3},{"i":92.5,"v":0.1},{"i":95.3,"v":3.3},{"i":97.2,"v":5.3},{"i":99.1,"v":6.5},{"i":101.9,"v":6.8},{"i":104.7,"v":6.5},{"i":107.5,"v":5.3},{"i":110.3,"v":3.3},{"i":113.2,"v":0.7},{"i":116,"v":-2.8},{"i":118.8,"v":-6.6},{"i":121.6,"v":-8.9},{"i":124.4,"v":-9.8},{"i":127.2,"v":-9.5},{"i":130.1,"v":-8.0},{"i":133.8,"v":-6.6},{"i":136.6,"v":-6.4},{"i":139.4,"v":-6.6},{"i":142.3,"v":-7.2},{"i":145.8,"v":-7.2},{"i":149.6,"v":-6.0},{"i":152.4,"v":-4.0},{"i":155.2,"v":-1.9},{"i":158.1,"v":0.1},{"i":160.9,"v":0.8},{"i":164.6,"v":1.6},{"i":168.4,"v":2.4},{"i":171.2,"v":3.1},{"i":174,"v":3.1},{"i":177.7,"v":2.6},{"i":182,"v":1.3},{"i":185.2,"v":2.4},{"i":188,"v":4.5},{"i":190.9,"v":5.9},{"i":194.1,"v":6.2},{"i":196.5,"v":5.3},{"i":200.2,"v":4.3},{"i":204.9,"v":3.3},{"i":208.6,"v":1.9},{"i":211.4,"v":0.7},{"i":215.2,"v":-0.6},{"i":220,"v":-0.58}
 ]
},
"vconcat":[
{
 "width":1020,"height":391,
 "layer":[
  {"data":{"name":"vgrid"},"mark":{"type":"rule","stroke":"#c6c6c6","strokeDash":[3,3],"strokeWidth":1},
   "encoding":{"x":{"field":"i","type":"quantitative","scale":{"domain":[-0.76,277.17],"nice":false,"zero":false},"axis":null}}},
  {"data":{"name":"seps"},"mark":{"type":"rule","stroke":"#000000","strokeDash":[2,2],"strokeWidth":1},
   "encoding":{"x":{"field":"i","type":"quantitative","axis":null}}},
  {"data":{"values":[{}]},"mark":{"type":"text","text":"FTAA","fontSize":48,"fontWeight":"bold","font":"DejaVu Sans","angle":340,"color":"#fbe0e8","clip":true},"encoding":{"x":{"datum":19.1,"type":"quantitative","axis":null},"y":{"datum":1876.5,"type":"quantitative","axis":null}}},
  {"data":{"values":[{}]},"mark":{"type":"text","text":"FTAA","fontSize":48,"fontWeight":"bold","font":"DejaVu Sans","angle":340,"color":"#fbe0e8","clip":true},"encoding":{"x":{"datum":171.7,"type":"quantitative","axis":null},"y":{"datum":1859.7,"type":"quantitative","axis":null}}},
  {"data":{"values":[{}]},"mark":{"type":"text","text":"FTAA","fontSize":48,"fontWeight":"bold","font":"DejaVu Sans","angle":340,"color":"#fbe0e8","clip":true},"encoding":{"x":{"datum":263.8,"type":"quantitative","axis":null},"y":{"datum":1877.4,"type":"quantitative","axis":null}}},
  {"data":{"values":[{}]},"mark":{"type":"text","text":"FTAA","fontSize":48,"fontWeight":"bold","font":"DejaVu Sans","angle":340,"color":"#fbe0e8","clip":true},"encoding":{"x":{"datum":81.8,"type":"quantitative","axis":null},"y":{"datum":1841.0,"type":"quantitative","axis":null}}},
  {"data":{"values":[{}]},"mark":{"type":"text","text":"FTAA","fontSize":48,"fontWeight":"bold","font":"DejaVu Sans","angle":340,"color":"#fbe0e8","clip":true},"encoding":{"x":{"datum":-4.0,"type":"quantitative","axis":null},"y":{"datum":1825.6,"type":"quantitative","axis":null}}},
  {"data":{"values":[{}]},"mark":{"type":"text","text":"FTAA","fontSize":48,"fontWeight":"bold","font":"DejaVu Sans","angle":340,"color":"#fbe0e8","clip":true},"encoding":{"x":{"datum":141.8,"type":"quantitative","axis":null},"y":{"datum":1805.6,"type":"quantitative","axis":null}}},
  {"data":{"values":[{}]},"mark":{"type":"text","text":"FTAA","fontSize":48,"fontWeight":"bold","font":"DejaVu Sans","angle":340,"color":"#fbe0e8","clip":true},"encoding":{"x":{"datum":233.8,"type":"quantitative","axis":null},"y":{"datum":1823.5,"type":"quantitative","axis":null}}},
  {"data":{"values":[{"p":1853},{"p":1835}]},"mark":{"type":"rule","stroke":"#ff4040","strokeWidth":1.4},
   "encoding":{"y":{"field":"p","type":"quantitative","scale":{"domain":[1803.97,1886.2],"nice":false,"zero":false},"axis":null}}},
  {"data":{"values":[{"p":1840}]},"mark":{"type":"rule","stroke":"#6e6eff","strokeWidth":2,"strokeDash":[9,5]},
   "encoding":{"y":{"field":"p","type":"quantitative","axis":null}}},
  {"data":{"name":"candles"},"mark":{"type":"rule","strokeWidth":1},
   "encoding":{"x":{"field":"i","type":"quantitative","axis":null},
    "y":{"field":"l","type":"quantitative","axis":{"orient":"right","values":[1807.4,1816.85,1826.3,1835.75,1845.1,1854.65,1864.1,1873.55,1883.15],"format":".2f","title":null,"grid":true,"gridColor":"#c6c6c6","gridDash":[3,3],"domain":false,"tickSize":3,"labelPadding":5,"labelOverlap":false,"labelFlush":false}},
    "y2":{"field":"h"},
    "color":{"condition":{"test":"datum.c > datum.o","value":"#ff0000"},"value":"#000000"}}},
  {"data":{"name":"candles"},"mark":{"type":"rule","strokeWidth":3},
   "encoding":{"x":{"field":"i","type":"quantitative","axis":null},"y":{"field":"o","type":"quantitative","axis":null},"y2":{"field":"c"},
    "color":{"condition":{"test":"datum.c > datum.o","value":"#ff0000"},"value":"#000000"}}},
  {"data":{"values":[{"t":"1853.00","p":1853},{"t":"1845.10","p":1845.1},{"t":"1840.00","p":1840},{"t":"1835.00","p":1835}]},
   "layer":[
    {"mark":{"type":"rect","height":13,"clip":false},
     "encoding":{"x":{"datum":277.7,"type":"quantitative","axis":null},"x2":{"datum":292.2},"y":{"field":"p","type":"quantitative","axis":null},
      "color":{"field":"t","type":"nominal","scale":{"domain":["1853.00","1845.10","1840.00","1835.00"],"range":["#ff0000","#000000","#0000ff","#ff0000"]},"legend":null}}},
    {"mark":{"type":"text","align":"left","baseline":"middle","color":"#ffffff","fontSize":10,"font":"DejaVu Sans","clip":false},
     "encoding":{"x":{"datum":279.6,"type":"quantitative","axis":null},"y":{"field":"p","type":"quantitative","axis":null},"text":{"field":"t"}}}
   ]},
  {"data":{"values":[{}]},"mark":{"type":"text","text":"黄金小时图","font":"Noto Sans CJK SC","fontSize":34,"color":"#ff0000","align":"left","baseline":"middle"},
   "encoding":{"x":{"datum":39.6,"type":"quantitative","axis":null},"y":{"datum":1878.6,"type":"quantitative","axis":null}}},
  {"data":{"values":[{}]},"mark":{"type":"text","text":"RF-GC,H1","font":"DejaVu Sans","fontSize":10,"color":"#000000","align":"left","baseline":"middle"},
   "encoding":{"x":{"datum":4.14,"type":"quantitative","axis":null},"y":{"datum":1884.1,"type":"quantitative","axis":null}}},
  {"data":{"values":[{}]},"mark":{"type":"point","shape":"triangle-down","size":30,"filled":true,"color":"#000000","opacity":1},
   "encoding":{"x":{"datum":1.4,"type":"quantitative","axis":null},"y":{"datum":1884.4,"type":"quantitative","axis":null}}}
 ]
},
{
 "width":1020,"height":100,
 "layer":[
  {"data":{"name":"vgrid"},"mark":{"type":"rule","stroke":"#c6c6c6","strokeDash":[3,3],"strokeWidth":1},
   "encoding":{"x":{"field":"i","type":"quantitative","scale":{"domain":[-0.76,277.17],"nice":false,"zero":false},"axis":null}}},
  {"data":{"name":"seps"},"mark":{"type":"rule","stroke":"#000000","strokeDash":[2,2],"strokeWidth":1},
   "encoding":{"x":{"field":"i","type":"quantitative","axis":null}}},
  {"data":{"values":[{}]},"mark":{"type":"text","text":"FTAA","fontSize":48,"fontWeight":"bold","font":"DejaVu Sans","angle":340,"color":"#fbe0e8","clip":true},"encoding":{"x":{"datum":141.8,"type":"quantitative","axis":null},"y":{"datum":54.9,"type":"quantitative","axis":null}}},
  {"data":{"values":[{}]},"mark":{"type":"text","text":"FTAA","fontSize":48,"fontWeight":"bold","font":"DejaVu Sans","angle":340,"color":"#fbe0e8","clip":true},"encoding":{"x":{"datum":53.2,"type":"quantitative","axis":null},"y":{"datum":8.6,"type":"quantitative","axis":null}}},
  {"data":{"values":[{"v":41},{"v":28},{"v":14}]},"mark":{"type":"rule","stroke":"#c6c6c6","strokeDash":[3,3],"strokeWidth":1},
   "encoding":{"y":{"field":"v","type":"quantitative","scale":{"domain":[1,55],"nice":false,"zero":false},"axis":null}}},
  {"data":{"name":"adx"},"mark":{"type":"line","strokeWidth":1},
   "encoding":{"x":{"field":"i","type":"quantitative","axis":null},
    "y":{"field":"v","type":"quantitative","axis":null},
    "color":{"field":"s","type":"nominal","scale":{"domain":["a","b","c"],"range":["#b8b8b8","#7ee000","#ff2a2a"]},"legend":null}}},
  {"data":{"values":[{}]},"mark":{"type":"text","text":"ADX(14) 13.6453 +DI:14.5312 -DI:18.0166","font":"DejaVu Sans","fontSize":9.5,"color":"#000000","align":"left","baseline":"middle"},
   "encoding":{"x":{"datum":0.6,"type":"quantitative","axis":null},"y":{"datum":49.1,"type":"quantitative","axis":null}}},
  {"data":{"values":[{"v":55},{"v":41},{"v":28},{"v":14}]},"mark":{"type":"text","font":"DejaVu Sans","fontSize":10,"color":"#000000","align":"left","baseline":"top","dy":3,"clip":false},
   "encoding":{"x":{"datum":278.3,"type":"quantitative","axis":null},"y":{"field":"v","type":"quantitative","axis":null},"text":{"field":"v","type":"quantitative","format":"d"}}},
  {"data":{"values":[{}]},"mark":{"type":"text","text":"1","font":"DejaVu Sans","fontSize":10,"color":"#000000","align":"left","baseline":"middle","clip":false},
   "encoding":{"x":{"datum":278.3,"type":"quantitative","axis":null},"y":{"datum":4.3,"type":"quantitative","axis":null}}}
 ]
},
{
 "width":1020,"height":121,
 "layer":[
  {"data":{"name":"vgrid"},"mark":{"type":"rule","stroke":"#c6c6c6","strokeDash":[3,3],"strokeWidth":1},
   "encoding":{"x":{"field":"i","type":"quantitative","scale":{"domain":[-0.76,277.17],"nice":false,"zero":false},"axis":null}}},
  {"data":{"values":[{"v":0}]},"mark":{"type":"rule","stroke":"#c6c6c6","strokeDash":[3,3],"strokeWidth":1},
   "encoding":{"y":{"field":"v","type":"quantitative","scale":{"domain":[-11.341,9.082],"nice":false,"zero":false},"axis":null}}},
  {"data":{"name":"seps"},"mark":{"type":"rule","stroke":"#000000","strokeDash":[2,2],"strokeWidth":1},
   "encoding":{"x":{"field":"i","type":"quantitative","axis":null}}},
  {"data":{"values":[{}]},"mark":{"type":"text","text":"FTAA","fontSize":48,"fontWeight":"bold","font":"DejaVu Sans","angle":340,"color":"#fbe0e8","clip":true},"encoding":{"x":{"datum":203.6,"type":"quantitative","axis":null},"y":{"datum":-1.9,"type":"quantitative","axis":null}}},
  {"data":{"values":[{}]},"mark":{"type":"text","text":"FTAA","fontSize":48,"fontWeight":"bold","font":"DejaVu Sans","angle":340,"color":"#fbe0e8","clip":true},"encoding":{"x":{"datum":53.2,"type":"quantitative","axis":null},"y":{"datum":11.6,"type":"quantitative","axis":null}}},
  {"data":{"name":"macd"},"mark":{"type":"rule","stroke":"#c0c0c0","strokeWidth":2},
   "encoding":{"x":{"field":"i","type":"quantitative","axis":null},"y":{"field":"m","type":"quantitative","axis":null},"y2":{"datum":0}}},
  {"data":{"name":"sig"},"mark":{"type":"line","stroke":"#ff0000","strokeWidth":1,"interpolate":"monotone"},
   "encoding":{"x":{"field":"i","type":"quantitative","axis":null},"y":{"field":"v","type":"quantitative","axis":null}}},
  {"data":{"values":[{}]},"mark":{"type":"text","text":"MACD(12,26,9) 0.039 -0.576","font":"DejaVu Sans","fontSize":9.5,"color":"#000000","align":"left","baseline":"middle"},
   "encoding":{"x":{"datum":0.6,"type":"quantitative","axis":null},"y":{"datum":7.2,"type":"quantitative","axis":null}}},
  {"data":{"values":[{}]},"mark":{"type":"text","text":"9.082","font":"DejaVu Sans","fontSize":10,"color":"#000000","align":"left","baseline":"top","dy":3,"clip":false},
   "encoding":{"x":{"datum":278.3,"type":"quantitative","axis":null},"y":{"datum":9.082,"type":"quantitative","axis":null}}},
  {"data":{"values":[{}]},"mark":{"type":"text","text":"0.00","font":"DejaVu Sans","fontSize":10,"color":"#000000","align":"left","baseline":"middle","clip":false},
   "encoding":{"x":{"datum":278.3,"type":"quantitative","axis":null},"y":{"datum":0,"type":"quantitative","axis":null}}},
  {"data":{"values":[{}]},"mark":{"type":"text","text":"-11.341","font":"DejaVu Sans","fontSize":10,"color":"#000000","align":"left","baseline":"bottom","dy":-1,"clip":false},
   "encoding":{"x":{"datum":278.3,"type":"quantitative","axis":null},"y":{"datum":-11.341,"type":"quantitative","axis":null}}},
  {"data":{"name":"xl"},"mark":{"type":"rule","stroke":"#000000","strokeWidth":1,"clip":false},
   "encoding":{"x":{"field":"i","type":"quantitative","axis":null},"y":{"datum":-11.341,"type":"quantitative","axis":null},"y2":{"datum":-12.02}}},
  {"data":{"name":"xl"},"mark":{"type":"text","font":"DejaVu Sans","fontSize":10,"color":"#000000","align":"left","baseline":"top","dy":3,"clip":false},
   "encoding":{"x":{"field":"i","type":"quantitative","axis":null},"y":{"datum":-11.341,"type":"quantitative","axis":null},"text":{"field":"t"}}},
  {"data":{"values":[{}]},"mark":{"type":"point","shape":"circle","size":1590,"filled":true,"color":"#e2522b","opacity":1,"clip":false},
   "encoding":{"x":{"datum":256.2,"type":"quantitative","axis":null},"y":{"datum":-6.61,"type":"quantitative","axis":null}}},
  {"data":{"values":[{}]},"mark":{"type":"point","shape":"circle","size":420,"filled":false,"stroke":"#f8bf30","strokeWidth":6,"opacity":1,"clip":false},
   "encoding":{"x":{"datum":256.4,"type":"quantitative","axis":null},"y":{"datum":-6.4,"type":"quantitative","axis":null}}},
  {"data":{"values":[{}]},"mark":{"type":"text","text":"中金网","font":"Noto Sans CJK SC","fontSize":30,"fontWeight":"bold","color":"#8f8f8f","align":"left","baseline":"middle","clip":false},
   "encoding":{"x":{"datum":264.4,"type":"quantitative","axis":null},"y":{"datum":-6.95,"type":"quantitative","axis":null}}},
  {"data":{"values":[{}]},"mark":{"type":"text","text":"CNGOLD.COM.CN","font":"DejaVu Sans","fontSize":9,"color":"#8a8a8a","align":"left","baseline":"middle","clip":false},
   "encoding":{"x":{"datum":264.6,"type":"quantitative","axis":null},"y":{"datum":-10.33,"type":"quantitative","axis":null}}},
  {"data":{"values":[{}]},"mark":{"type":"text","text":"中   文   财   经   新   媒   体","font":"Noto Sans CJK SC","fontSize":12.5,"color":"#b0b0b0","align":"left","baseline":"top","dy":2,"clip":false},
   "encoding":{"x":{"datum":250.7,"type":"quantitative","axis":null},"y":{"datum":-11.341,"type":"quantitative","axis":null}}}
 ]
}
]
}
